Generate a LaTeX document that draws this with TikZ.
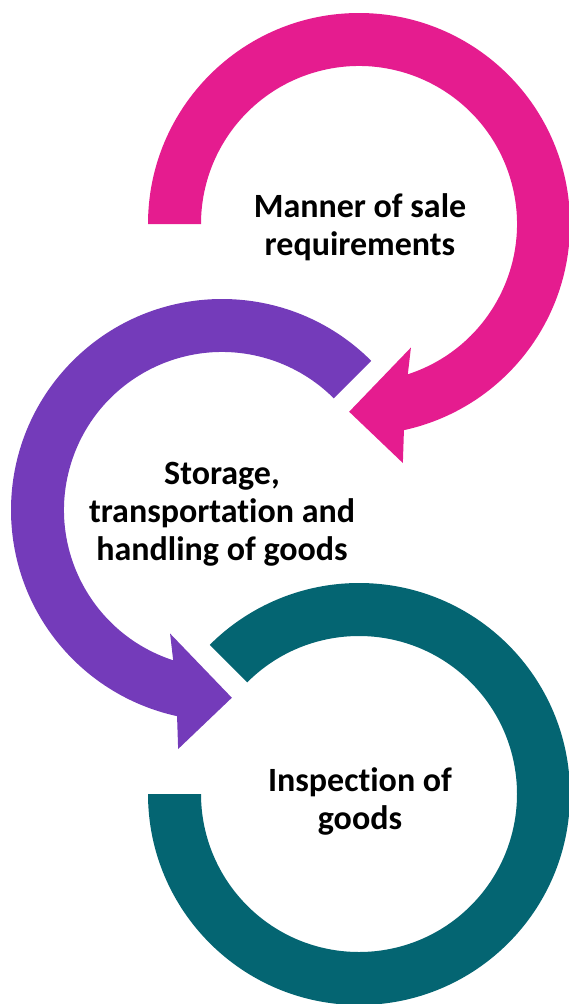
\documentclass[tikz,border=0pt]{standalone}
\usepackage{fontspec}
\setmainfont{Carlito}[Ligatures=NoCommon]
\usetikzlibrary{calc}
\definecolor{pinkc}{HTML}{E51C8F}
\definecolor{purplec}{HTML}{743BBA}
\definecolor{tealc}{HTML}{046572}
\tikzset{
  lbl/.style={align=center, font=\fontsize{34}{38}\selectfont\bfseries, text=black}
}
\begin{document}
\begin{tikzpicture}[x=1pt,y=1pt]
\clip (0,0) rectangle (569,-1004);
\coordinate (pc) at (359,-224);
\coordinate (uc) at (222,-510);
\coordinate (tc) at (359,-794);
% pink circular arrow
\fill[pinkc] ($(pc)+(180:211)$) arc[start angle=180,end angle=-77.7,radius=211]
  -- ($(pc)+(-79.6:243)$) -- ($(pc)+(-93:188)$) -- ($(pc)+(-67.2:134)$)
  -- ($(pc)+(-72:158)$) arc[start angle=-72,end angle=180,radius=158] -- cycle;
% purple circular arrow
\fill[purplec] ($(uc)+(45:211)$) arc[start angle=45,end angle=257.7,radius=211]
  -- ($(uc)+(259.6:243)$) -- ($(uc)+(273:188)$) -- ($(uc)+(247.2:134)$)
  -- ($(uc)+(252:158)$) arc[start angle=252,end angle=45,radius=158] -- cycle;
% teal ring
\fill[tealc] ($(tc)+(180:211)$) arc[start angle=180,end angle=495,radius=211]
  -- ($(tc)+(135:158)$) arc[start angle=495,end angle=180,radius=158] -- cycle;
% labels
\node[lbl] (t1) at (360,-227) {Manner of sale\\requirements};
\node[lbl] (t2) at (222,-514) {Storage,\\transportation and\\handling of goods};
\node[lbl] (t3) at (360,-801) {Inspection of\\goods};
\end{tikzpicture}
\end{document}
